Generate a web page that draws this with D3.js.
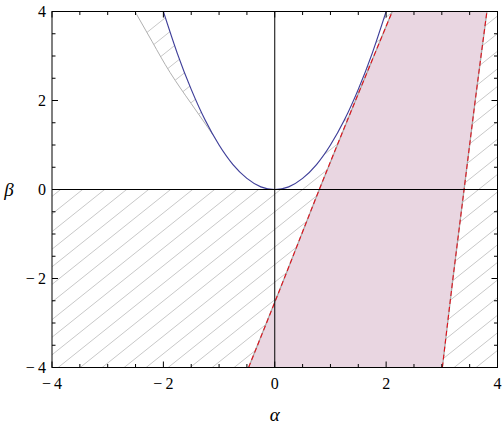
<!DOCTYPE html>
<html><head><meta charset="utf-8">
<script src="https://cdn.jsdelivr.net/npm/d3@7"></script>
<style>body{margin:0;background:#fff}</style>
</head><body>
<svg id="c" width="504" height="430" font-family="Liberation Serif"></svg>
<script>
// ---- data ----
const xDomain = [-4, 4];
const yDomain = [-4, 4];
const majorTicks = [-4, -2, 0, 2, 4];
const tickLabels = ["−\u20094", "−\u20092", "0", "2", "4"];
const minorTicks = [-3.5, -3, -2.5, -1.5, -1, -0.5, 0.5, 1, 1.5, 2.5, 3, 3.5];

const parabolaAlpha = [-2, -1.75, -1.5, -1.25, -1, -0.75, -0.5, -0.25, 0, 0.25, 0.5, 0.75, 1, 1.25, 1.5, 1.75, 2];
const parabolaBeta  = [4, 3.06, 2.25, 1.56, 1, 0.56, 0.25, 0.06, 0, 0.06, 0.25, 0.56, 1, 1.56, 2.25, 3.06, 4];

const leftEdgeAlpha  = [-0.47, 0.17, 0.80, 1.45, 2.11];
const leftEdgeBeta   = [-4, -2, 0, 2, 4];
const rightEdgeAlpha = [3.01, 3.20, 3.40, 3.60, 3.81];
const rightEdgeBeta  = [-4, -2, 0, 2, 4];

const sliverAlpha = [-2.51, -2.2, -1.88, -1.5, -1.11];
const sliverBeta  = [4, 3.32, 2.63, 1.93, 1.23];

// ---- layout ----
const svg = d3.select("#c");
const L = 52, R = 497.5, T = 11.5, B = 367.5;
const x = d3.scaleLinear().domain(xDomain).range([L, R]);
const y = d3.scaleLinear().domain(yDomain).range([B, T]);
const zip = (a, b) => a.map((v, i) => [v, b[i]]);
const line = d3.line().x(d => x(d[0])).y(d => y(d[1]));
const smooth = d3.line().x(d => x(d[0])).y(d => y(d[1])).curve(d3.curveNatural);

const parab = zip(parabolaAlpha, parabolaBeta);
const leftE = zip(leftEdgeAlpha, leftEdgeBeta);
const rightE = zip(rightEdgeAlpha, rightEdgeBeta);
const sliver = zip(sliverAlpha, sliverBeta);

// hatched regions
const reg1 = [[xDomain[0], yDomain[0]], [xDomain[0], 0]]
  .concat(parab.filter(p => p[0] >= 0))
  .concat(leftE.slice().reverse());
const reg2 = rightE.concat([[xDomain[1], yDomain[1]], [xDomain[1], yDomain[0]]]);
const reg3 = sliver.concat(parab.filter(p => p[0] < -1.11).reverse());

const defs = svg.append("defs");
const cp = defs.append("clipPath").attr("id", "hclip");
[reg1, reg2, reg3].forEach(r => cp.append("path").attr("d", line(r) + "Z"));
defs.append("clipPath").attr("id", "pclip").append("rect")
  .attr("x", L).attr("y", T).attr("width", R - L).attr("height", B - T);

const plot = svg.append("g").attr("clip-path", "url(#pclip)");

// hatch lines
const hg = plot.append("g").attr("clip-path", "url(#hclip)");
const s = 0.8, sp = 17.6;
for (let c = 150; c < 900; c += sp) {
  hg.append("line")
    .attr("x1", 0).attr("y1", c)
    .attr("x2", 600).attr("y2", c - s * 600)
    .attr("stroke", "#c8c8c8").attr("stroke-width", 1);
}
// region boundary (gray)
plot.append("path").attr("d", smooth(sliver))
  .attr("fill", "none").attr("stroke", "#b0b0b0").attr("stroke-width", 1);

// pink region
plot.append("path").attr("d", line(leftE.concat(rightE.slice().reverse())) + "Z")
  .attr("fill", "#e9d6e1");
[leftE, rightE].forEach(e => {
  plot.append("path").attr("d", smooth(e)).attr("fill", "none")
    .attr("stroke", "#a8a8a8").attr("stroke-width", 1.3);
  plot.append("path").attr("d", smooth(e)).attr("fill", "none")
    .attr("stroke", "#e0101a").attr("stroke-width", 1.1).attr("stroke-dasharray", "5,3");
});

// parabola
plot.append("path").attr("d", smooth(parab)).attr("fill", "none")
  .attr("stroke", "#40409a").attr("stroke-width", 1.2);

// zero axes
svg.append("line").attr("x1", x(0)).attr("x2", x(0)).attr("y1", T).attr("y2", B)
  .attr("stroke", "#000").attr("stroke-width", 1);
svg.append("line").attr("x1", L).attr("x2", R).attr("y1", y(0)).attr("y2", y(0))
  .attr("stroke", "#000").attr("stroke-width", 1);

// frame
svg.append("rect").attr("x", L).attr("y", T).attr("width", R - L).attr("height", B - T)
  .attr("fill", "none").attr("stroke", "#000").attr("stroke-width", 1);

// ticks (inward, all four sides)
const tk = svg.append("g").attr("stroke", "#000").attr("stroke-width", 1);
function ticks(vals, len) {
  vals.forEach(v => {
    tk.append("line").attr("x1", x(v)).attr("x2", x(v)).attr("y1", B).attr("y2", B - len);
    tk.append("line").attr("x1", x(v)).attr("x2", x(v)).attr("y1", T).attr("y2", T + len);
    tk.append("line").attr("y1", y(v)).attr("y2", y(v)).attr("x1", L).attr("x2", L + len);
    tk.append("line").attr("y1", y(v)).attr("y2", y(v)).attr("x1", R).attr("x2", R - len);
  });
}
ticks(majorTicks, 6);
ticks(minorTicks, 3.5);

// tick labels
majorTicks.forEach((v, i) => {
  svg.append("text").attr("x", x(v)).attr("y", 389)
    .attr("text-anchor", "middle").attr("font-family", "Liberation Serif").attr("font-size", 16)
    .text(tickLabels[i]);
  svg.append("text").attr("x", 46).attr("y", y(v)).attr("dy", "0.35em")
    .attr("text-anchor", "end").attr("font-family", "Liberation Serif").attr("font-size", 16)
    .text(tickLabels[i]);
});
svg.append("text").attr("x", x(0)).attr("y", 421).attr("text-anchor", "middle")
  .attr("font-family", "Liberation Serif").attr("font-style", "italic").attr("font-size", 19).text("α");
svg.append("text").attr("x", 9).attr("y", 196).attr("text-anchor", "middle")
  .attr("font-family", "Liberation Serif").attr("font-style", "italic").attr("font-size", 19).text("β");
</script>
</body></html>
